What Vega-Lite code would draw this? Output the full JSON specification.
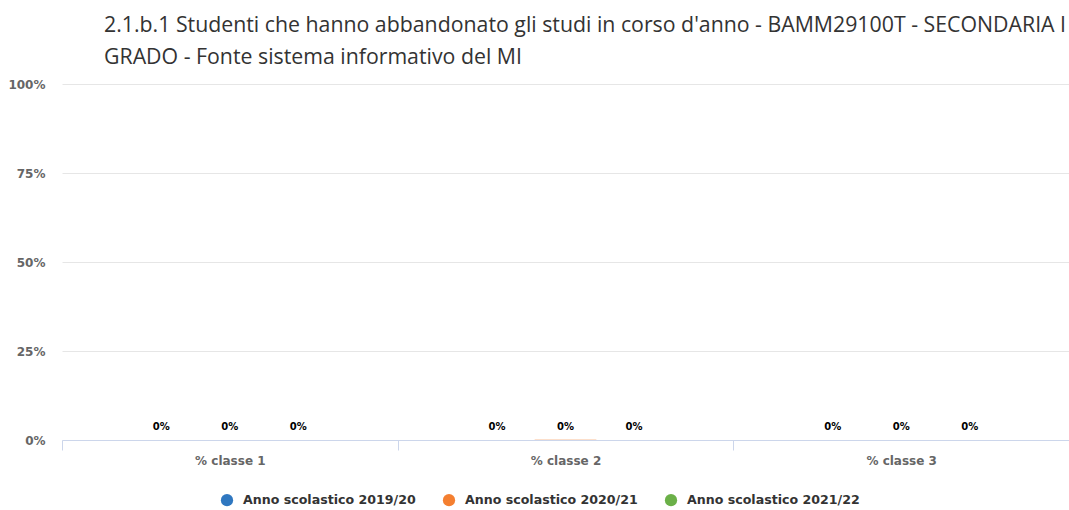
{
  "$schema": "https://vega.github.io/schema/vega-lite/v6.json",
  "autosize": {"type": "none"},
  "width": 1007,
  "height": 356,
  "padding": {"left": 62, "top": 84, "right": 0, "bottom": 70},
  "background": "white",
  "title": {
    "text": ["2.1.b.1  Studenti che hanno abbandonato gli studi in corso d'anno - BAMM29100T - SECONDARIA I", "GRADO - Fonte sistema informativo del MI"],
    "anchor": "start",
    "frame": "group",
    "dx": 42,
    "offset": 10,
    "font": "Open Sans",
    "fontSize": 21.3,
    "fontWeight": "normal",
    "color": "#333333",
    "lineHeight": 32
  },
  "data": {
    "values": [
      {"classe": "% classe 1", "anno": "Anno scolastico 2019/20", "valore": 0},
      {"classe": "% classe 1", "anno": "Anno scolastico 2020/21", "valore": 0},
      {"classe": "% classe 1", "anno": "Anno scolastico 2021/22", "valore": 0},
      {"classe": "% classe 2", "anno": "Anno scolastico 2019/20", "valore": 0},
      {"classe": "% classe 2", "anno": "Anno scolastico 2020/21", "valore": 0.001},
      {"classe": "% classe 2", "anno": "Anno scolastico 2021/22", "valore": 0},
      {"classe": "% classe 3", "anno": "Anno scolastico 2019/20", "valore": 0},
      {"classe": "% classe 3", "anno": "Anno scolastico 2020/21", "valore": 0},
      {"classe": "% classe 3", "anno": "Anno scolastico 2021/22", "valore": 0}
    ]
  },
  "encoding": {
    "x": {
      "field": "classe",
      "type": "nominal",
      "scale": {"paddingInner": 0, "paddingOuter": 0},
      "axis": {
        "title": null,
        "labelAngle": 0,
        "labelFont": "DejaVu Sans",
        "labelFontSize": 12,
        "labelFontWeight": "bold",
        "labelColor": "#666666",
        "labelPadding": 5,
        "domainColor": "#ccd6eb",
        "tickColor": "#ccd6eb",
        "tickSize": 10,
        "tickBand": "extent",
        "grid": false
      }
    },
    "xOffset": {
      "field": "anno",
      "type": "nominal",
      "scale": {"paddingInner": 0.1, "paddingOuter": 1.05}
    },
    "y": {
      "field": "valore",
      "type": "quantitative",
      "scale": {"domain": [0, 1]},
      "axis": {
        "title": null,
        "values": [0, 0.25, 0.5, 0.75, 1],
        "format": ".0%",
        "labelFont": "DejaVu Sans",
        "labelFontSize": 12,
        "labelFontWeight": "bold",
        "labelColor": "#666666",
        "labelPadding": 17,
        "domain": false,
        "ticks": false,
        "gridColor": "#e6e6e6"
      }
    },
    "color": {
      "field": "anno",
      "type": "nominal",
      "scale": {"range": ["#2f77c0", "#f47f30", "#6bb048"]},
      "legend": {
        "title": null,
        "orient": "none",
        "legendX": 158,
        "legendY": 409,
        "direction": "horizontal",
        "symbolType": "circle",
        "symbolSize": 150,
        "symbolOpacity": 1,
        "labelFont": "DejaVu Sans",
        "labelFontSize": 12.6,
        "labelFontWeight": "bold",
        "labelColor": "#333333",
        "labelLimit": 0,
        "labelOffset": 9,
        "columnPadding": 26
      }
    }
  },
  "layer": [
    {"mark": {"type": "bar"}},
    {
      "mark": {"type": "text", "baseline": "bottom", "dy": -8, "font": "DejaVu Sans", "fontSize": 10, "fontWeight": "bold", "color": "#000000"},
      "encoding": {
        "text": {"field": "valore", "type": "quantitative", "format": ".0%"},
        "color": {"value": "#000000"}
      }
    }
  ],
  "config": {
    "view": {"stroke": null}
  }
}
